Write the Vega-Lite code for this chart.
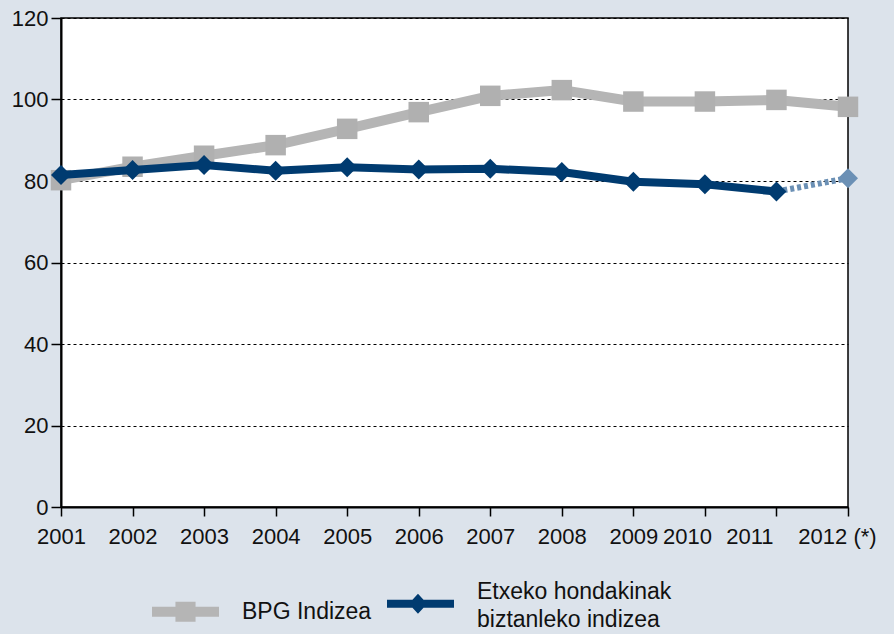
{
  "$schema": "https://vega.github.io/schema/vega-lite/v6.json",
  "width": 787,
  "height": 489,
  "autosize": "none",
  "padding": {"left": 61, "top": 18, "right": 46, "bottom": 127},
  "background": "#dce3eb",
  "config": {
    "font": "Liberation Sans",
    "view": {"fill": "white", "stroke": "black", "strokeWidth": 1.5}
  },
  "data": {
    "values": [
      {"year": 2001, "series": "BPG Indizea", "value": 80.2},
      {"year": 2002, "series": "BPG Indizea", "value": 83.5},
      {"year": 2003, "series": "BPG Indizea", "value": 86.2},
      {"year": 2004, "series": "BPG Indizea", "value": 88.8},
      {"year": 2005, "series": "BPG Indizea", "value": 92.8},
      {"year": 2006, "series": "BPG Indizea", "value": 96.9},
      {"year": 2007, "series": "BPG Indizea", "value": 100.9},
      {"year": 2008, "series": "BPG Indizea", "value": 102.3},
      {"year": 2009, "series": "BPG Indizea", "value": 99.5},
      {"year": 2010, "series": "BPG Indizea", "value": 99.5},
      {"year": 2011, "series": "BPG Indizea", "value": 99.9},
      {"year": 2012, "series": "BPG Indizea", "value": 98.2},
      {"year": 2001, "series": "Etxeko hondakinak biztanleko indizea", "value": 81.5},
      {"year": 2002, "series": "Etxeko hondakinak biztanleko indizea", "value": 82.7},
      {"year": 2003, "series": "Etxeko hondakinak biztanleko indizea", "value": 83.9},
      {"year": 2004, "series": "Etxeko hondakinak biztanleko indizea", "value": 82.5},
      {"year": 2005, "series": "Etxeko hondakinak biztanleko indizea", "value": 83.4},
      {"year": 2006, "series": "Etxeko hondakinak biztanleko indizea", "value": 82.8},
      {"year": 2007, "series": "Etxeko hondakinak biztanleko indizea", "value": 83.0},
      {"year": 2008, "series": "Etxeko hondakinak biztanleko indizea", "value": 82.2},
      {"year": 2009, "series": "Etxeko hondakinak biztanleko indizea", "value": 79.8},
      {"year": 2010, "series": "Etxeko hondakinak biztanleko indizea", "value": 79.2},
      {"year": 2011, "series": "Etxeko hondakinak biztanleko indizea", "value": 77.4},
      {"year": 2012, "series": "Etxeko hondakinak biztanleko indizea", "value": 80.7}
    ]
  },
  "encoding": {
    "x": {
      "field": "year",
      "type": "quantitative",
      "scale": {"domain": [2001, 2012], "nice": false, "zero": false},
      "axis": {
        "values": [2001, 2002, 2003, 2004, 2005, 2006, 2007, 2008, 2009, 2010, 2011, 2012],
        "format": "d",
        "title": null,
        "grid": false,
        "tickSize": 9,
        "tickColor": "black",
        "tickWidth": 1.5,
        "domainColor": "black",
        "domainWidth": 2,
        "labelPadding": 10,
        "labelFontSize": 22,
        "labelColor": "#111111",
        "labelFlush": false,
        "labelOverlap": false,
        "labelBound": false,
        "labelExpr": "datum.value == 2012 ? '2012 (*)' : datum.label",
        "labelOffset": {
          "condition": [
            {"test": "datum.value == 2012", "value": -11},
            {"test": "datum.value == 2011", "value": -27},
            {"test": "datum.value == 2010", "value": -18}
          ],
          "value": 0
        }
      }
    },
    "y": {
      "field": "value",
      "type": "quantitative",
      "scale": {"domain": [0, 120], "nice": false},
      "axis": {
        "values": [0, 20, 40, 60, 80, 100, 120],
        "title": null,
        "grid": true,
        "gridColor": "black",
        "gridDash": [3, 3],
        "gridWidth": 1,
        "gridOpacity": 1,
        "tickSize": 10,
        "tickColor": "black",
        "tickWidth": 1.5,
        "domainColor": "black",
        "domainWidth": 2,
        "labelPadding": 3,
        "labelFontSize": 22,
        "labelColor": "#111111"
      }
    }
  },
  "layer": [
    {
      "transform": [{"filter": "datum.series == 'BPG Indizea'"}],
      "mark": {"type": "line", "strokeWidth": 10},
      "encoding": {
        "color": {
          "field": "series",
          "type": "nominal",
          "scale": {
            "domain": ["BPG Indizea", "Etxeko hondakinak biztanleko indizea"],
            "range": ["#b5b5b5", "#003b70"]
          },
          "legend": {
            "orient": "none",
            "legendX": 91,
            "legendY": 552,
            "direction": "horizontal",
            "title": null,
            "padding": 0,
            "symbolSize": 4489,
            "labelOffset": 23,
            "columnPadding": 15,
            "labelFontSize": 23,
            "labelColor": "#111111",
            "labelLimit": 400,
            "labelExpr": "datum.value == 'BPG Indizea' ? datum.label : ['Etxeko hondakinak', 'biztanleko indizea']",
            "encode": {
              "labels": {
                "update": {
                  "lineHeight": {"value": 28},
                  "dy": {"signal": "datum.value == 'BPG Indizea' ? 0 : -12"}
                }
              },
              "symbols": {
                "update": {
                  "shape": {"signal": "datum.value == 'BPG Indizea' ? 'M-1,-0.15H1V0.15H-1Z M-0.3,-0.3H0.3V0.3H-0.3Z' : 'M-1,-0.12H1V0.12H-1Z M-0.075,-0.3L0.2,0L-0.075,0.3L-0.35,0Z'"},
                  "fill": {"signal": "datum.value == 'BPG Indizea' ? '#b5b5b5' : '#003b70'"},
                  "stroke": {"value": "transparent"},
                  "strokeWidth": {"value": 0},
                  "opacity": {"value": 1}
                }
              }
            }
          }
        }
      }
    },
    {
      "transform": [{"filter": "datum.series == 'BPG Indizea'"}],
      "mark": {"type": "point", "shape": "square", "filled": true, "size": 420, "color": "#b0b0b0", "opacity": 1}
    },
    {
      "transform": [{"filter": "datum.series != 'BPG Indizea' && datum.year <= 2011"}],
      "mark": {"type": "line", "strokeWidth": 8},
      "encoding": {
        "color": {"field": "series", "type": "nominal"}
      }
    },
    {
      "transform": [{"filter": "datum.series != 'BPG Indizea' && datum.year >= 2011"}],
      "mark": {"type": "line", "strokeWidth": 6, "color": "#6b90b5", "strokeDash": [4, 3]},
      "encoding": {}
    },
    {
      "transform": [{"filter": "datum.series != 'BPG Indizea'"}],
      "mark": {"type": "point", "shape": "diamond", "filled": true, "size": 400, "opacity": 1},
      "encoding": {
        "color": {
          "condition": {"test": "datum.year == 2012", "value": "#6b90b5"},
          "value": "#003b70"
        }
      }
    }
  ]
}
